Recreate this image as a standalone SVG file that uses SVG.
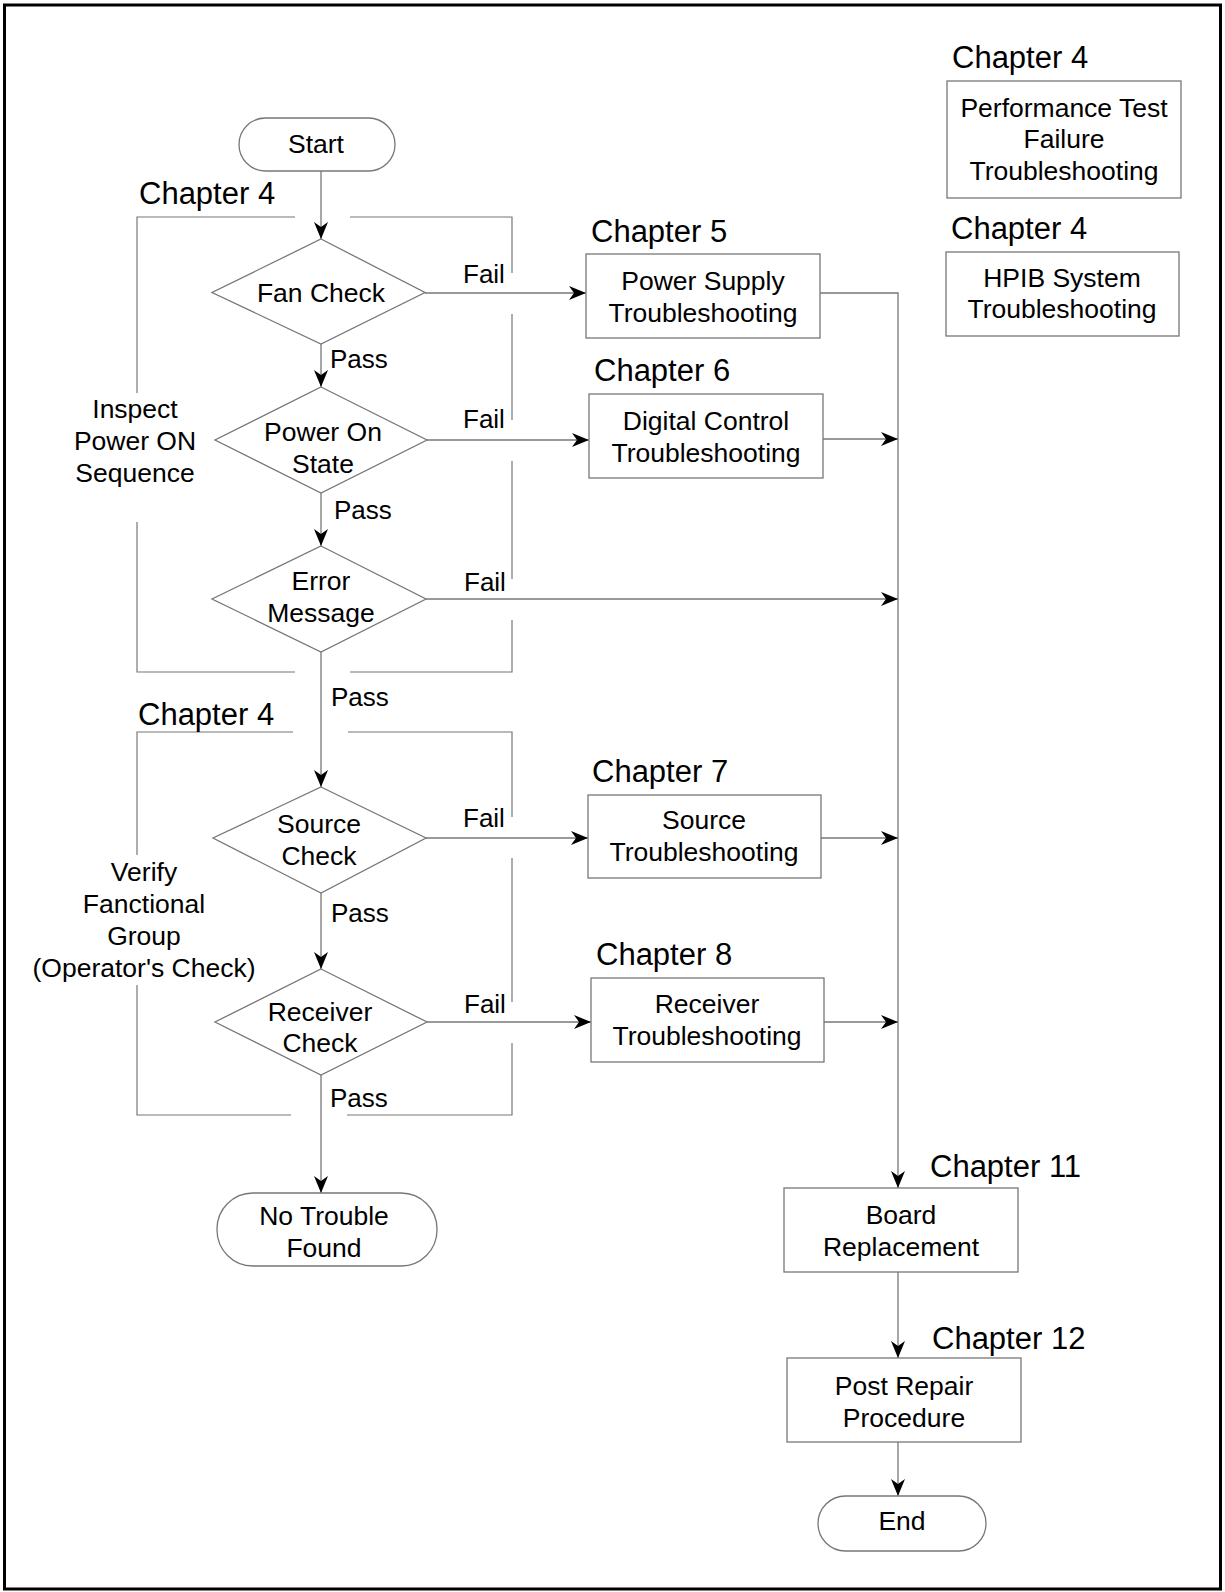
<svg xmlns="http://www.w3.org/2000/svg" width="1225" height="1592" viewBox="0 0 1225 1592">
<style>
text{font-family:"Liberation Sans",Arial,Helvetica,sans-serif;fill:#000}
.t{font-size:26.5px;text-anchor:middle}
.l{font-size:26px}
.ch{font-size:31px}
.shape{fill:#fff;stroke:#777;stroke-width:1.3}
.ln{fill:none;stroke:#777;stroke-width:1.3}
.br{fill:none;stroke:#777;stroke-width:1.2}
</style>
<defs>
<marker id="ah" markerUnits="userSpaceOnUse" markerWidth="17" markerHeight="14" refX="17" refY="7" orient="auto" viewBox="0 0 17 14">
<path d="M0,0 L17,7 L0,14 L5,7 Z" fill="#000"/>
</marker>
</defs>
<rect x="4.5" y="5" width="1216" height="1584" fill="#fff" stroke="#000" stroke-width="3"/>

<g id="brackets">
<path class="br" d="M295,217 H137 V393 M137,522 V672 H295 M350,217 H512 V273 M512,314 V420 M512,461 V579 M512,620 V672 H350"/>
<path class="br" d="M293,732 H137 V855 M137,985 V1115 H291 M348,732 H512 V817 M512,858 V1002 M512,1043 V1115 H347"/>
<text class="ch" x="139" y="204">Chapter 4</text>
<text class="t" x="135" y="418">Inspect</text>
<text class="t" x="135" y="450">Power ON</text>
<text class="t" x="135" y="482">Sequence</text>
<text class="ch" x="138" y="725">Chapter 4</text>
<text class="t" x="144" y="881">Verify</text>
<text class="t" x="144" y="913">Fanctional</text>
<text class="t" x="144" y="945">Group</text>
<text class="t" x="144" y="977">(Operator's Check)</text>
</g>

<g id="connectors">
<path class="ln" d="M321,171 V239" marker-end="url(#ah)"/>
<path class="ln" d="M321,344 V387" marker-end="url(#ah)"/>
<path class="ln" d="M321,493 V546" marker-end="url(#ah)"/>
<path class="ln" d="M321,652 V787" marker-end="url(#ah)"/>
<path class="ln" d="M321,893 V969" marker-end="url(#ah)"/>
<path class="ln" d="M321,1075 V1193" marker-end="url(#ah)"/>
<path class="ln" d="M425,293 H586" marker-end="url(#ah)"/>
<path class="ln" d="M820,293 H898 V1188" marker-end="url(#ah)"/>
<path class="ln" d="M427,440 H589" marker-end="url(#ah)"/>
<path class="ln" d="M823,439 H898" marker-end="url(#ah)"/>
<path class="ln" d="M426,599 H898" marker-end="url(#ah)"/>
<path class="ln" d="M426,838 H588" marker-end="url(#ah)"/>
<path class="ln" d="M821,838 H898" marker-end="url(#ah)"/>
<path class="ln" d="M427,1022 H591" marker-end="url(#ah)"/>
<path class="ln" d="M824,1022 H898" marker-end="url(#ah)"/>
<path class="ln" d="M898,1272 V1358" marker-end="url(#ah)"/>
<path class="ln" d="M898,1442 V1496" marker-end="url(#ah)"/>
<text class="l" x="330" y="368">Pass</text>
<text class="l" x="334" y="519">Pass</text>
<text class="l" x="331" y="706">Pass</text>
<text class="l" x="331" y="922">Pass</text>
<text class="l" x="330" y="1107">Pass</text>
<text class="l" x="463" y="283">Fail</text>
<text class="l" x="463" y="428">Fail</text>
<text class="l" x="464" y="591">Fail</text>
<text class="l" x="463" y="827">Fail</text>
<text class="l" x="464" y="1013">Fail</text>
</g>

<g id="start">
<rect class="shape" x="239" y="118" width="156" height="53" rx="26.5"/>
<text class="t" x="316" y="153">Start</text>
</g>

<g id="fan-check">
<polygon class="shape" points="321,239 425,292.5 321,344 212,292.5"/>
<text class="t" x="321" y="302">Fan Check</text>
</g>

<g id="power-on">
<polygon class="shape" points="321,387 427,440 321,493 215,440"/>
<text class="t" x="323" y="441">Power On</text>
<text class="t" x="323" y="473">State</text>
</g>

<g id="error-message">
<polygon class="shape" points="321,546 426,599 321,652 212,599"/>
<text class="t" x="321" y="590">Error</text>
<text class="t" x="321" y="622">Message</text>
</g>

<g id="source-check">
<polygon class="shape" points="321,787 426,838 321,893 213,838"/>
<text class="t" x="319" y="833">Source</text>
<text class="t" x="319" y="865">Check</text>
</g>

<g id="receiver-check">
<polygon class="shape" points="321,969 427,1022 321,1075 215,1022"/>
<text class="t" x="320" y="1021">Receiver</text>
<text class="t" x="320" y="1052">Check</text>
</g>

<g id="no-trouble">
<rect class="shape" x="217" y="1193" width="220" height="73" rx="36"/>
<text class="t" x="324" y="1225">No Trouble</text>
<text class="t" x="324" y="1257">Found</text>
</g>

<g id="power-supply">
<text class="ch" x="591" y="242">Chapter 5</text>
<rect class="shape" x="586" y="254" width="234" height="84"/>
<text class="t" x="703" y="290">Power Supply</text>
<text class="t" x="703" y="322">Troubleshooting</text>
</g>

<g id="digital-control">
<text class="ch" x="594" y="381">Chapter 6</text>
<rect class="shape" x="589" y="394" width="234" height="84"/>
<text class="t" x="706" y="430">Digital Control</text>
<text class="t" x="706" y="462">Troubleshooting</text>
</g>

<g id="source-ts">
<text class="ch" x="592" y="782">Chapter 7</text>
<rect class="shape" x="588" y="795" width="233" height="83"/>
<text class="t" x="704" y="829">Source</text>
<text class="t" x="704" y="861">Troubleshooting</text>
</g>

<g id="receiver-ts">
<text class="ch" x="596" y="965">Chapter 8</text>
<rect class="shape" x="591" y="978" width="233" height="84"/>
<text class="t" x="707" y="1013">Receiver</text>
<text class="t" x="707" y="1045">Troubleshooting</text>
</g>

<g id="performance">
<text class="ch" x="952" y="68">Chapter 4</text>
<rect class="shape" x="947" y="81" width="234" height="117"/>
<text class="t" x="1064" y="117">Performance Test</text>
<text class="t" x="1064" y="148">Failure</text>
<text class="t" x="1064" y="180">Troubleshooting</text>
</g>

<g id="hpib">
<text class="ch" x="951" y="239">Chapter 4</text>
<rect class="shape" x="946" y="252" width="233" height="84"/>
<text class="t" x="1062" y="287">HPIB System</text>
<text class="t" x="1062" y="318">Troubleshooting</text>
</g>

<g id="board">
<text class="ch" x="930" y="1177">Chapter 11</text>
<rect class="shape" x="784" y="1188" width="234" height="84"/>
<text class="t" x="901" y="1224">Board</text>
<text class="t" x="901" y="1256">Replacement</text>
</g>

<g id="post-repair">
<text class="ch" x="932" y="1349">Chapter 12</text>
<rect class="shape" x="787" y="1358" width="234" height="84"/>
<text class="t" x="904" y="1395">Post Repair</text>
<text class="t" x="904" y="1427">Procedure</text>
</g>

<g id="end">
<rect class="shape" x="818" y="1496" width="168" height="55" rx="27.5"/>
<text class="t" x="902" y="1530">End</text>
</g>
</svg>
